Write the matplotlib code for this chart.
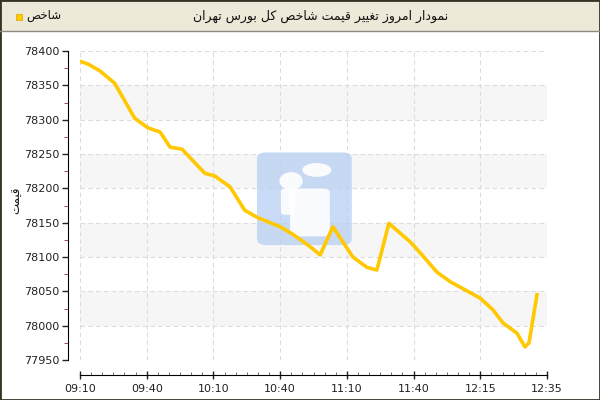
import matplotlib
matplotlib.use("Agg")
from matplotlib import pyplot as plt
from matplotlib.patches import Rectangle, FancyBboxPatch, Ellipse
from matplotlib.ticker import MultipleLocator

# chart data (x = position along the category axis)
tick_labels = ["09:10", "09:40", "10:10", "10:40", "11:10", "11:40", "12:15", "12:35"]
x_pos = [0.00, 0.12, 0.30, 0.52, 0.82, 1.02, 1.20, 1.35, 1.53, 1.87, 2.02, 2.25,
         2.47, 2.67, 3.00, 3.19, 3.45, 3.60, 3.79, 4.09, 4.30, 4.45, 4.63, 4.95,
         5.10, 5.35, 5.55, 6.00, 6.19, 6.34, 6.55, 6.67, 6.73, 6.85]
values = [78385, 78381, 78371, 78353, 78302, 78288, 78282, 78260, 78257, 78222,
          78218, 78202, 78168, 78157, 78144, 78133, 78115, 78103, 78144, 78100,
          78085, 78081, 78149, 78122, 78106, 78078, 78064, 78040, 78023, 78004,
          77989, 77969, 77975, 78045]

title = "نمودار امروز تغییر قیمت شاخص کل بورس تهران"
series_name = "شاخص"
y_label = "قیمت"

# simple arabic/persian shaping (matplotlib has no bidi / shaping)
forms = {
    "ا": (0xFE8D, False), "ب": (0xFE8F, True), "ت": (0xFE95, True),
    "خ": (0xFEA5, True), "د": (0xFEA9, False), "ر": (0xFEAD, False),
    "ز": (0xFEAF, False), "س": (0xFEB1, True), "ش": (0xFEB5, True),
    "ص": (0xFEB9, True), "غ": (0xFECD, True), "ق": (0xFED5, True),
    "ل": (0xFEDD, True), "م": (0xFEE1, True), "ن": (0xFEE5, True),
    "ه": (0xFEE9, True), "و": (0xFEED, False), "ک": (0xFB8E, True),
    "ی": (0xFBFC, True),
}


def shape(text):
    out = []
    for i, ch in enumerate(text):
        if ch not in forms:
            out.append(ch)
            continue
        base, dual = forms[ch]
        prev = text[i - 1] if i > 0 else ""
        nxt = text[i + 1] if i + 1 < len(text) else ""
        join_prev = prev in forms and forms[prev][1]
        join_next = dual and nxt in forms
        if join_prev and join_next:
            off = 3
        elif join_prev:
            off = 1
        elif join_next:
            off = 2
        else:
            off = 0
        out.append(chr(base + off))
    return "".join(out)[::-1]


plt.rcParams["font.family"] = ["DejaVu Sans"]

fig = plt.figure(figsize=(6, 4), dpi=100)
W, H = 600, 400


def fx(px):
    return px / W


def fy(py):
    return 1 - py / H


# title bar
fig.patches.append(Rectangle((0, fy(31)), 1, 1 - fy(31), transform=fig.transFigure,
                             facecolor="#ECE9D8", edgecolor="none", zorder=0))
fig.lines.append(plt.Line2D([0, 1], [fy(31), fy(31)], transform=fig.transFigure,
                            color="#8a8a80", lw=1))
fig.text(fx(321), fy(16), shape(title), ha="center", va="center", fontsize=9, color="#111")
fig.patches.append(Rectangle((fx(16), fy(20)), fx(6), fy(14) - fy(20), transform=fig.transFigure,
                             facecolor="#FFCC00", edgecolor="#d9a800", lw=0.5))
fig.text(fx(26), fy(16), shape(series_name), ha="left", va="center", fontsize=8.5, color="#111")
fig.patches.append(Rectangle((0, 0), 1, 1, transform=fig.transFigure, fill=False,
                             edgecolor="#333326", lw=2))

ax = fig.add_axes([fx(80), fy(360), fx(547) - fx(80), fy(51) - fy(360)])
ax.set_xlim(0, 7)
ax.set_ylim(77950, 78400)

for lo in [78000, 78100, 78200, 78300]:
    ax.axhspan(lo, lo + 50, color="#f6f6f6", zorder=0, lw=0)

ax.grid(True, which="major", color="#dcdcdc", linestyle=(0, (4, 3)), lw=0.8, zorder=1)

# watermark logo
ax.add_patch(FancyBboxPatch((0.379, 0.372), 0.203, 0.30, boxstyle="round,pad=0,rounding_size=0.02",
                            transform=ax.transAxes, facecolor="#b8cff3", alpha=0.75,
                            edgecolor="none", zorder=2))
ax.add_patch(Ellipse((0.452, 0.579), 0.05, 0.058, transform=ax.transAxes,
                     facecolor="white", alpha=0.9, edgecolor="none", zorder=2))
ax.add_patch(Ellipse((0.507, 0.615), 0.062, 0.045, transform=ax.transAxes,
                     facecolor="white", alpha=0.9, edgecolor="none", zorder=2))
ax.add_patch(FancyBboxPatch((0.45, 0.40), 0.085, 0.155, boxstyle="round,pad=0,rounding_size=0.015",
                            transform=ax.transAxes, facecolor="white", alpha=0.9,
                            edgecolor="none", zorder=2))
ax.add_patch(FancyBboxPatch((0.43, 0.47), 0.03, 0.085, boxstyle="round,pad=0,rounding_size=0.01",
                            transform=ax.transAxes, facecolor="white", alpha=0.9,
                            edgecolor="none", zorder=2))

ax.plot(x_pos, values, color="#FFC800", lw=2.6, solid_joinstyle="round", zorder=3)

ax.set_xticks(range(len(tick_labels)))
ax.set_xticklabels(tick_labels)
ax.xaxis.set_minor_locator(MultipleLocator(1 / 6))
ax.yaxis.set_major_locator(MultipleLocator(50))
ax.yaxis.set_minor_locator(MultipleLocator(25))

for s in ["top", "right"]:
    ax.spines[s].set_visible(False)
ax.spines["left"].set_position(("outward", 9))
ax.spines["bottom"].set_position(("outward", 11))
ax.tick_params(axis="both", which="major", labelsize=8, colors="#222", length=4, width=1, pad=2)
ax.tick_params(axis="x", which="major", direction="inout", length=6, pad=3)
ax.tick_params(axis="x", which="minor", direction="in", length=2, color="#555")
ax.tick_params(axis="y", which="minor", length=3, color="#a03030")

fig.text(fx(17), fy(200), shape(y_label), rotation=90, ha="center", va="center",
         fontsize=8.5, color="#111")

fig.savefig("out.png", dpi=100)
